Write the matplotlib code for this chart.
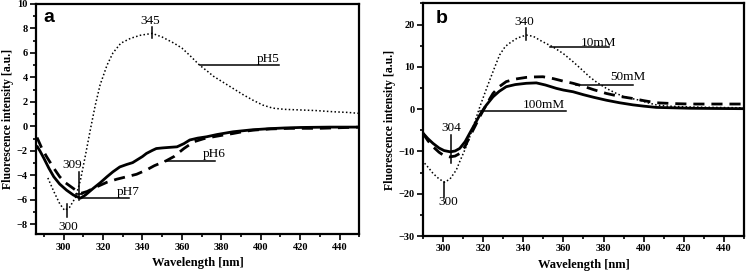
import numpy as np
import matplotlib
matplotlib.use('Agg')
import matplotlib.pyplot as plt
from matplotlib.ticker import MultipleLocator

plt.rcParams['font.family'] = 'Liberation Serif'

# panel a : pH series
xa_ph5 = [292, 295, 298, 300.5, 303, 306, 308.5, 311, 313.5, 316, 318.5, 322, 325, 329, 334, 339, 345,
          350, 356, 360, 364, 369, 373, 376, 381, 386, 391, 396, 401, 406, 412, 420, 428, 437, 444, 450]
ya_ph5 = [-4.2, -5.3, -6.3, -6.85, -6.6, -5.8, -4.4, -2.4, -0.3, 1.7, 3.4, 5.0, 6.0, 6.8, 7.2, 7.45, 7.6,
          7.3, 6.8, 6.4, 5.8, 5.0, 4.5, 4.1, 3.6, 3.1, 2.6, 2.15, 1.75, 1.5, 1.4, 1.35, 1.3, 1.2, 1.15, 1.07]

xa_ph6 = [286.5, 289, 291.5, 295, 298, 301, 304, 307, 309, 312, 315, 318.5, 322, 327, 332, 337, 342,
          346, 349, 352, 356, 361, 366, 371, 376, 381, 386, 391, 396, 405, 415, 430, 440, 450]
ya_ph6 = [-0.9, -1.8, -2.5, -3.4, -4.1, -4.6, -4.95, -5.3, -5.45, -5.3, -5.05, -4.8, -4.55, -4.3, -4.1, -3.9, -3.55,
          -3.2, -3.0, -2.8, -2.45, -1.8, -1.25, -1.0, -0.84, -0.7, -0.57, -0.42, -0.3, -0.2, -0.15, -0.15, -0.1, -0.05]

xa_ph7 = [286.7, 288, 290, 292.5, 295, 298, 301.5, 305, 308.5, 311, 315, 318.5, 322, 325, 328.5, 332, 335,
          337, 340, 342, 345, 347, 350, 354, 357.5, 361, 364, 368, 372.5, 378, 386, 395, 404, 412, 420, 435, 450]
ya_ph7 = [-1.66, -2.0, -2.6, -3.4, -4.1, -4.7, -5.2, -5.6, -5.85, -5.6, -5.05, -4.6, -4.1, -3.7, -3.3, -3.1, -2.95,
          -2.75, -2.45, -2.2, -1.95, -1.8, -1.75, -1.7, -1.66, -1.4, -1.1, -0.95, -0.84, -0.65, -0.43, -0.28, -0.18, -0.12, -0.08, -0.05, -0.05]

# panel b : concentration series
xb_10 = [290.8, 293, 295, 298, 300.8, 303.5, 306.6, 308.5, 310.8, 313, 315, 318.3, 321, 323.3, 326, 328.2,
         331, 333.2, 337, 341.5, 345, 348.2, 351, 354.8, 360, 364.8, 369, 373.1, 377, 381.4, 386, 389.7,
         394, 398, 402, 406.3, 412, 423, 435, 450]
yb_10 = [-12.8, -14.0, -15.2, -16.5, -17.3, -16.5, -14.4, -12.2, -9.7, -7.0, -4.2, 0.5, 4.0, 6.9, 10.2, 12.8,
         14.8, 15.6, 16.8, 17.5, 17.2, 16.3, 15.6, 14.7, 13.1, 11.2, 9.4, 7.6, 6.2, 4.9, 3.8, 3.0,
         2.5, 2.1, 1.5, 1.0, 0.7, 0.5, 0.4, 0.3]

xb_50 = [290, 292.5, 295, 298, 300.5, 303.3, 306, 308.3, 311, 313.3, 316, 318.3, 321.5, 324.9, 328, 331.5,
         336, 341.5, 345, 349.8, 355, 360, 364.8, 370, 375, 381.4, 388, 394.7, 400, 406.3, 415, 423, 435, 450]
yb_50 = [-5.7, -7.5, -8.9, -10.2, -11.0, -11.3, -11.1, -10.5, -8.8, -6.5, -4.0, -1.8, 1.0, 3.7, 5.3, 6.5,
         7.1, 7.5, 7.6, 7.65, 7.2, 6.6, 6.1, 5.4, 4.6, 3.7, 3.0, 2.5, 2.0, 1.5, 1.3, 1.2, 1.2, 1.2]

xb_100 = [290, 292.5, 295, 298, 300.5, 303.6, 306, 308.3, 311, 313.3, 316, 318.3, 321.5, 324.9, 328, 331.5,
          336, 341.5, 346.5, 351, 356.5, 360, 364.8, 370, 375, 381.4, 388, 394.7, 400, 406.3, 415, 423, 435, 450]
yb_100 = [-5.7, -7.0, -8.1, -9.2, -9.8, -10.1, -9.9, -9.3, -7.7, -5.7, -3.4, -1.4, 0.9, 2.9, 4.2, 5.3,
          5.8, 6.1, 6.2, 5.7, 4.9, 4.5, 4.1, 3.4, 2.8, 2.1, 1.5, 1.0, 0.7, 0.4, 0.3, 0.2, 0.15, 0.1]

fig = plt.figure(figsize=(7.46, 2.75), dpi=100)
ax1 = fig.add_axes([0.0483, 0.148, 0.4334, 0.8375])
ax2 = fig.add_axes([0.567, 0.1418, 0.4303, 0.846])

lbl = dict(fontsize=9.5)


def style(ax, xlim, ylim, ymaj, ymin):
    ax.set_xlim(*xlim)
    ax.set_ylim(*ylim)
    ax.xaxis.set_major_locator(MultipleLocator(20))
    ax.xaxis.set_minor_locator(MultipleLocator(10))
    ax.yaxis.set_major_locator(MultipleLocator(ymaj))
    ax.yaxis.set_minor_locator(MultipleLocator(ymin))
    ax.tick_params(which='both', direction='out', width=1.2, labelsize=7.5, pad=2)
    ax.tick_params(which='major', length=4)
    ax.tick_params(which='minor', length=2.5)
    for lab in ax.get_xticklabels() + ax.get_yticklabels():
        lab.set_fontweight('bold')
    for s in ax.spines.values():
        s.set_linewidth(1.6)
    ax.set_xlabel('Wavelength [nm]', fontsize=9, fontweight='bold', labelpad=4)
    ax.set_ylabel('Fluorescence intensity [a.u.]', fontsize=8.5, fontweight='bold', labelpad=2)


# panel a
ax1.plot(xa_ph5, ya_ph5, color='black', lw=1.1, ls=(0, (1, 1.5)))
ax1.plot(xa_ph6, ya_ph6, color='black', lw=2.0, ls=(0, (4, 2.5)))
ax1.plot(xa_ph7, ya_ph7, color='black', lw=2.0)
style(ax1, (286, 450), (-8.8, 10), 2, 1)

ax1.plot([345, 345], [7.2, 8.15], color='black', lw=1.1)
ax1.text(344.1, 8.6, '345', ha='center', va='center', **lbl)
ax1.plot([369.2, 409.4], [5.0, 5.0], color='black', lw=1.1)
ax1.text(409.4, 5.05, 'pH5', ha='right', va='bottom', **lbl)
ax1.plot([351.4, 376.8], [-2.83, -2.83], color='black', lw=1.1)
ax1.text(376.6, -2.25, 'pH6', ha='center', va='center', **lbl)
ax1.plot([308.3, 333.3], [-5.82, -5.82], color='black', lw=1.1)
ax1.text(332.5, -5.33, 'pH7', ha='center', va='center', **lbl)
ax1.plot([308, 308], [-3.7, -6.0], color='black', lw=1.1)
ax1.plot([306.5, 309.5], [-5.5, -5.5], color='black', lw=1.1)
ax1.text(304.1, -3.15, '309', ha='center', va='center', **lbl)
ax1.plot([301.6, 301.6], [-6.34, -7.4], color='black', lw=1.1)
ax1.text(302.4, -8.2, '300', ha='center', va='center', **lbl)
ax1.text(0.04, 0.94, 'a', transform=ax1.transAxes, fontsize=14, fontweight='bold',
         family='Liberation Sans', ha='center', va='center')

# panel b
ax2.plot(xb_10, yb_10, color='black', lw=1.1, ls=(0, (1, 1.5)))
ax2.plot(xb_50, yb_50, color='black', lw=2.0, ls=(0, (4, 2.5)))
ax2.plot(xb_100, yb_100, color='black', lw=2.0)
style(ax2, (290, 450), (-30, 25), 10, 5)

ax2.plot([341.2, 341.2], [16.3, 19.1], color='black', lw=1.1)
ax2.text(340.7, 20.65, '340', ha='center', va='center', **lbl)
ax2.plot([353.2, 382.7], [14.6, 14.6], color='black', lw=1.1)
ax2.text(377.7, 15.7, '10mM', ha='center', va='center', **lbl)
ax2.plot([366.1, 394.7], [5.7, 5.7], color='black', lw=1.1)
ax2.text(392.3, 7.65, '50mM', ha='center', va='center', **lbl)
ax2.plot([318.3, 361.1], [-0.4, -0.4], color='black', lw=1.1)
ax2.text(350.3, 0.9, '100mM', ha='center', va='center', **lbl)
ax2.plot([304.1, 304.1], [-6.1, -12.8], color='black', lw=1.1)
ax2.text(304.1, -4.55, '304', ha='center', va='center', **lbl)
ax2.plot([300.3, 300.3], [-17.2, -20.7], color='black', lw=1.1)
ax2.text(302.5, -21.9, '300', ha='center', va='center', **lbl)
ax2.text(0.057, 0.935, 'b', transform=ax2.transAxes, fontsize=14, fontweight='bold',
         family='Liberation Sans', ha='center', va='center')

fig.savefig('out.png', dpi=100)
